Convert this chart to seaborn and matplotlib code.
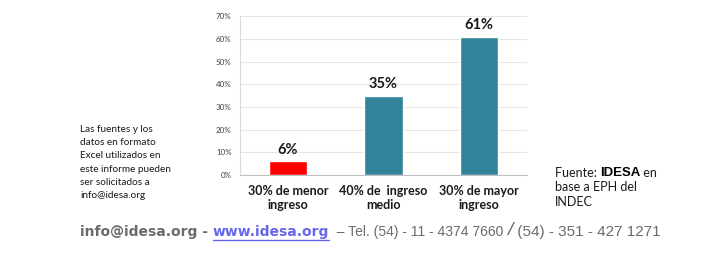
import matplotlib
matplotlib.use("Agg")
import matplotlib.pyplot as plt
import seaborn as sns
import pandas as pd

categories = ["30% de menor\ningreso", "40% de  ingreso\nmedio", "30% de mayor\ningreso"]
values = [6, 35, 61]
value_labels = ["6%", "35%", "61%"]
bar_colors = ["#FF0000", "#31849B", "#31849B"]
y_ticks = [0, 10, 20, 30, 40, 50, 60, 70]

sns.set_theme(style="white")
plt.rcParams['font.family'] = ['Lato', 'Liberation Sans', 'DejaVu Sans']

fig = plt.figure(figsize=(7.25, 2.6), dpi=100)
ax = fig.add_axes([0.331, 0.327, 0.396, 0.611])

df = pd.DataFrame({"cat": categories, "val": values})
sns.barplot(data=df, x="cat", y="val", hue="cat", palette=bar_colors,
            legend=False, width=0.4, ax=ax, saturation=1)

ax.set_xlim(-0.5, 2.5)
ax.set_ylim(0, 70)
ax.set_yticks(y_ticks)
ax.set_yticklabels([f"{t}%" for t in y_ticks], fontsize=5.8, color="#404040")
ax.yaxis.grid(True, color="#E6E6E6", linewidth=0.8)
ax.set_axisbelow(True)
ax.set_xlabel("")
ax.set_ylabel("")
ax.tick_params(axis='y', length=0, pad=6)
ax.tick_params(axis='x', length=0, pad=7)
for lbl in ax.get_xticklabels():
    lbl.set_fontsize(9)
    lbl.set_fontweight('bold')
    lbl.set_color('#1a1a1a')
    lbl.set_linespacing(1.25)
ax.set_xticks([0.5, 1.5], minor=True)
ax.tick_params(axis='x', which='minor', length=4, color='#BFBFBF', width=0.8, direction='out')
for s in ['top', 'right']:
    ax.spines[s].set_visible(False)
ax.spines['left'].set_color('#D9D9D9')
ax.spines['bottom'].set_color('#BFBFBF')
ax.spines['left'].set_linewidth(0.8)
ax.spines['bottom'].set_linewidth(0.8)

for p, lab in zip(ax.patches, value_labels):
    ax.annotate(lab, (p.get_x() + p.get_width() / 2, p.get_height()),
                xytext=(0, 3), textcoords='offset points', ha='center', va='bottom',
                fontsize=10.5, fontweight='bold', color='#1a1a1a')

fig.text(80 / 725, 1 - 125 / 260,
         "Las fuentes y los\ndatos en formato\nExcel utilizados en\neste informe pueden\nser solicitados a\ninfo@idesa.org",
         fontsize=7.2, va='top', ha='left', color='#1a1a1a', linespacing=1.6)

t1 = fig.text(555 / 725, 1 - 177 / 260, "Fuente: ", fontsize=9, color='#1a1a1a', va='baseline')
t2 = ax.annotate("IDESA", xy=(1, 0), xycoords=t1, fontsize=9.5, fontweight='bold',
                 color='#000000', va='bottom', annotation_clip=False,
                 family=['Liberation Sans', 'DejaVu Sans'])
t3 = ax.annotate(" en", xy=(1, 0), xycoords=t2, fontsize=9, color='#1a1a1a', va='bottom',
                 annotation_clip=False)
fig.text(555 / 725, 1 - 181 / 260, "base a EPH del\nINDEC", fontsize=9, color='#1a1a1a',
         va='top', ha='left', linespacing=1.3)

foot_bold = ['DejaVu Sans']
foot_reg = ['Liberation Sans', 'DejaVu Sans']
f1 = fig.text(80 / 725, 1 - 236 / 260, "info@idesa.org - ", fontsize=10, fontweight='bold',
              color='#6b6b6b', va='baseline', family=foot_bold)
f2 = ax.annotate("www.idesa.org", xy=(1, 0), xycoords=f1, fontsize=10, fontweight='bold',
                 color='#6666EE', va='bottom', annotation_clip=False, family=foot_bold)
f3 = ax.annotate("  – Tel. (54) - 11 - 4374 7660 ", xy=(1, 0), xycoords=f2, fontsize=10,
                 color='#6b6b6b', va='bottom', annotation_clip=False, family=foot_reg)
f4 = ax.annotate("/", xy=(1, 0), xycoords=f3, fontsize=14, color='#6b6b6b', va='bottom',
                 annotation_clip=False, fontstyle='italic', family=foot_reg)
f5 = ax.annotate(" (54) - 351 - 427 1271", xy=(1, 0), xycoords=f4, fontsize=11,
                 color='#6b6b6b', va='bottom', annotation_clip=False, family=foot_reg)

fig.canvas.draw()
bb = f2.get_window_extent()
fig.add_artist(plt.Line2D([bb.x0 / 725, bb.x1 / 725], [(bb.y0 - 1) / 260, (bb.y0 - 1) / 260],
                          color='#6666EE', linewidth=1, transform=fig.transFigure))

fig.savefig("out.png", dpi=100, facecolor='white')
